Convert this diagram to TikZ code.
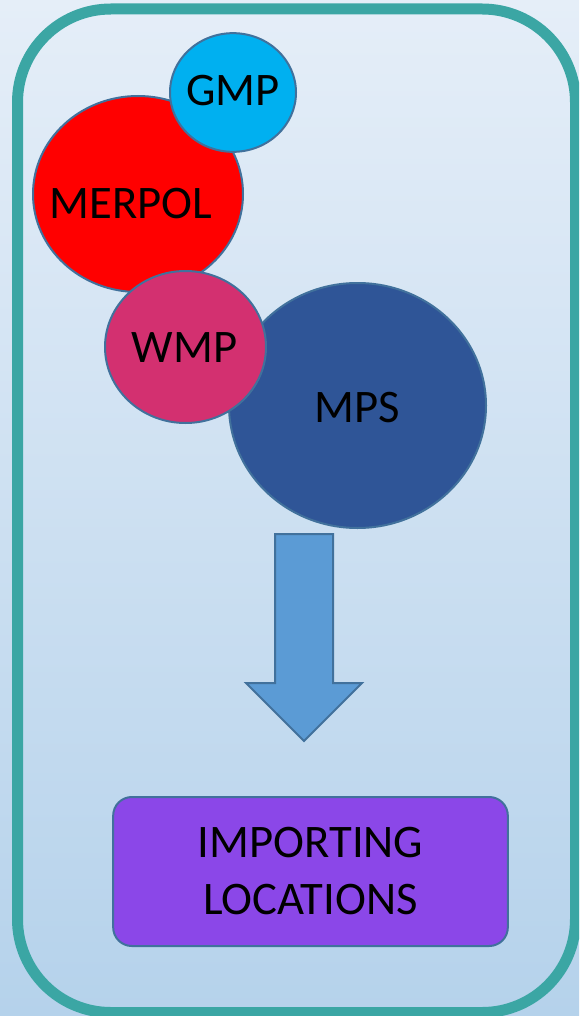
\documentclass[tikz,border=0pt]{standalone}
\usepackage{fontspec}
\setmainfont{Carlito}
\usetikzlibrary{shapes.geometric,calc}

\definecolor{bgtop}{RGB}{229,238,248}
\definecolor{bgbot}{RGB}{181,210,235}
\definecolor{frame}{RGB}{59,166,164}
\definecolor{rim}{RGB}{65,113,156}
\definecolor{gmpblue}{RGB}{0,176,240}
\definecolor{merpolred}{RGB}{255,0,0}
\definecolor{wmppink}{RGB}{211,48,112}
\definecolor{mpsblue}{RGB}{47,85,151}
\definecolor{arrowblue}{RGB}{91,155,213}
\definecolor{boxpurple}{RGB}{139,71,232}

\begin{document}
\begin{tikzpicture}[x=0.75pt,y=-0.75pt,
    blob/.style={ellipse, draw=rim, line width=1.5pt, inner sep=0pt},
    tag/.style={font=\fontsize{35}{43}\selectfont, inner sep=0pt}]
  \useasboundingbox (0,0) rectangle (579,1016);
  \clip (0,0) rectangle (579,1016);
  \shade[top color=bgtop, bottom color=bgbot] (0,0) rectangle (579,1016);
  %the teal frame round everything
  \draw[frame, line width=8.25pt, rounded corners=70pt] (17.5,9) rectangle (575.5,1012.5);
  %the four blobs (drawn in this order so the overlaps come out right)
  \node [blob, fill=merpolred, minimum width=157.5pt, minimum height=147pt] (merpol) at (138,194) {};
  \node [blob, fill=gmpblue, minimum width=94.5pt, minimum height=89pt] (gmp) at (233,92.5) {};
  \node [blob, fill=mpsblue, minimum width=192.75pt, minimum height=183.75pt] (mps) at (357.5,405.5) {};
  \node [blob, fill=wmppink, minimum width=120.75pt, minimum height=114pt] (wmp) at (185.5,347) {};
  %their names
  \node [tag] (merpoltxt) at ($(merpol) + (-7, 10)$) {MERPOL};
  \node [tag] (gmptxt) at ($(gmp) + (0, -2)$) {GMP};
  \node [tag] (wmptxt) at ($(wmp) + (-1, 1)$) {WMP};
  \node [tag] (mpstxt) at ($(mps) + (0, 2)$) {MPS};
  %the block arrow
  \draw[rim, fill=arrowblue, line width=1.5pt, line join=miter]
    (275,534) -- (333,534) -- (333,683) -- (362,683) -- (304,741)
    -- (246,683) -- (275,683) -- cycle;
  %the goal
  \node [draw=rim, fill=boxpurple, line width=1.5pt, rounded corners=14pt,
         minimum width=296pt, minimum height=111.75pt, align=center,
         font=\fontsize{35}{42.75}\selectfont] (imp) at (310.5,871.5)
         {IMPORTING\\LOCATIONS};
\end{tikzpicture}
\end{document}
